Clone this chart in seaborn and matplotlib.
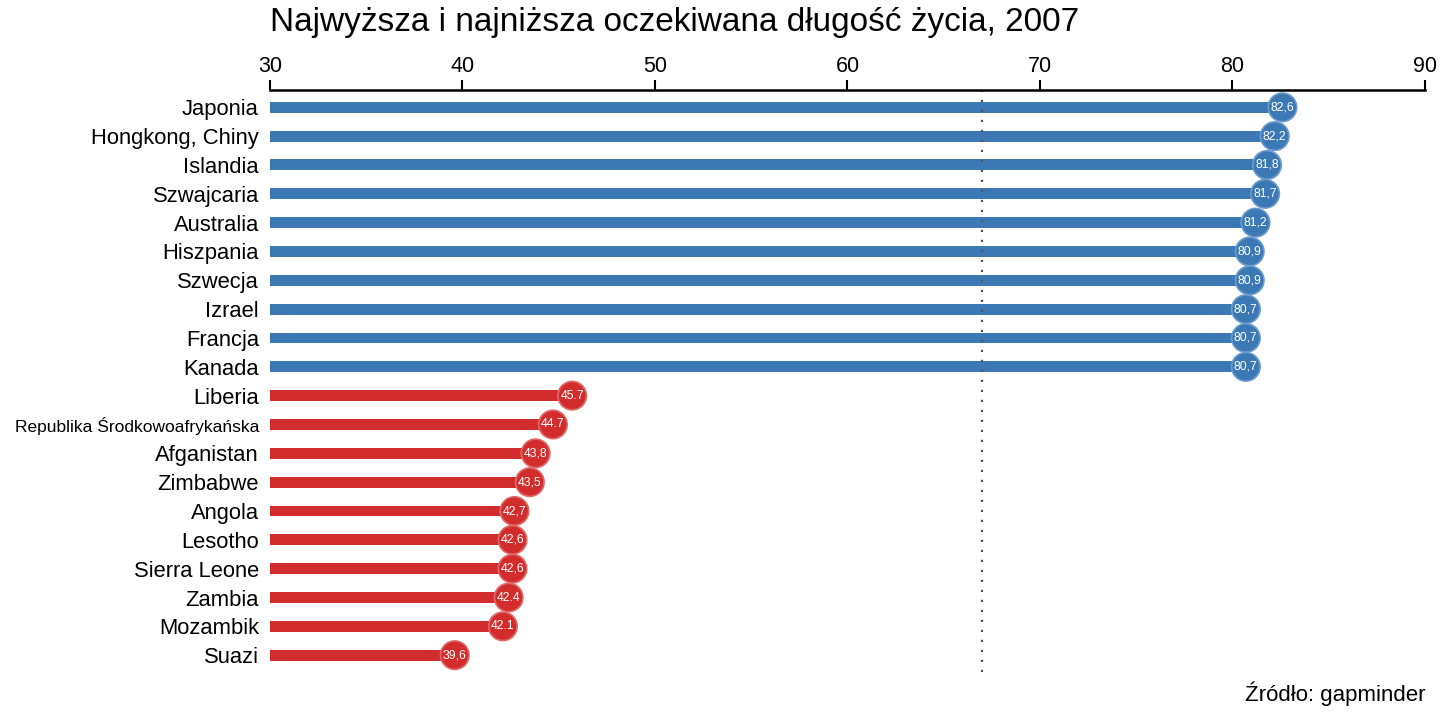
import matplotlib
matplotlib.use("Agg")
import matplotlib.pyplot as plt
import seaborn as sns
import pandas as pd

countries = ["Japonia", "Hongkong, Chiny", "Islandia", "Szwajcaria", "Australia",
             "Hiszpania", "Szwecja", "Izrael", "Francja", "Kanada",
             "Liberia", "Republika Środkowoafrykańska", "Afganistan", "Zimbabwe",
             "Angola", "Lesotho", "Sierra Leone", "Zambia", "Mozambik", "Suazi"]
life_exp = [82.6, 82.2, 81.8, 81.7, 81.2, 80.9, 80.9, 80.7, 80.7, 80.7,
            45.7, 44.7, 43.8, 43.5, 42.7, 42.6, 42.6, 42.4, 42.1, 39.6]
value_labels = ["82,6", "82,2", "81,8", "81,7", "81,2", "80,9", "80,9", "80,7", "80,7", "80,7",
                "45.7", "44.7", "43,8", "43,5", "42,7", "42,6", "42,6", "42.4", "42.1", "39,6"]
groups = ["top"] * 10 + ["bottom"] * 10
mean_value = 67.0
x_ticks = [30, 40, 50, 60, 70, 80, 90]

df = pd.DataFrame({"country": countries, "value": life_exp, "group": groups, "label": value_labels})
palette = {"top": "#3b78b4", "bottom": "#d32c2c"}
edge_palette = {"top": "#6a9bcc", "bottom": "#e06a6a"}

sns.set_theme(style="white")
plt.rcParams["font.family"] = ["Liberation Sans", "DejaVu Sans"]

fig = plt.figure(figsize=(14.4, 7.2), dpi=100)
ax = fig.add_axes([0.1875, 0.066, 0.802, 0.809])

sns.barplot(data=df, y="country", x="value", hue="group", palette=palette,
            orient="h", width=0.38, dodge=False, legend=False, ax=ax, linewidth=0,
            saturation=1)
sns.scatterplot(data=df, y="country", x="value", hue="group", palette=palette,
                s=420, edgecolor=[edge_palette[g] for g in groups], linewidth=1.2,
                legend=False, ax=ax, zorder=5)

for i, row in df.iterrows():
    ax.text(row["value"], i, row["label"], color="white", fontsize=8.8,
            ha="center", va="center", zorder=6)

ax.axvline(mean_value, color="#555555", linestyle=(0, (1, 3.5)), linewidth=1.6, zorder=1)

ax.set_xlim(30, 90)
ax.set_ylim(19.6, -0.6)
ax.set_xticks(x_ticks)
ax.xaxis.tick_top()
ax.tick_params(axis="x", direction="out", length=7, width=1.5, colors="black",
               labelsize=15.5, pad=2, top=True, bottom=False)
ax.tick_params(axis="y", length=0, labelsize=15.8, pad=8)
for lab in ax.get_yticklabels():
    lab.set_color("black")
    if lab.get_text().startswith("Republika"):
        lab.set_fontsize(12.5)
ax.set_xlabel("")
ax.set_ylabel("")
for side in ["left", "right", "bottom"]:
    ax.spines[side].set_visible(False)
ax.spines["top"].set_color("black")
ax.spines["top"].set_linewidth(1.8)
ax.grid(False)

fig.text(0.1875, 0.99, "Najwyższa i najniższa oczekiwana długość życia, 2007",
         fontsize=24, ha="left", va="top", color="black")
fig.text(0.99, 0.02, "Źródło: gapminder", fontsize=16, ha="right", va="bottom", color="black")

fig.savefig("out.png", dpi=100, facecolor="white")
